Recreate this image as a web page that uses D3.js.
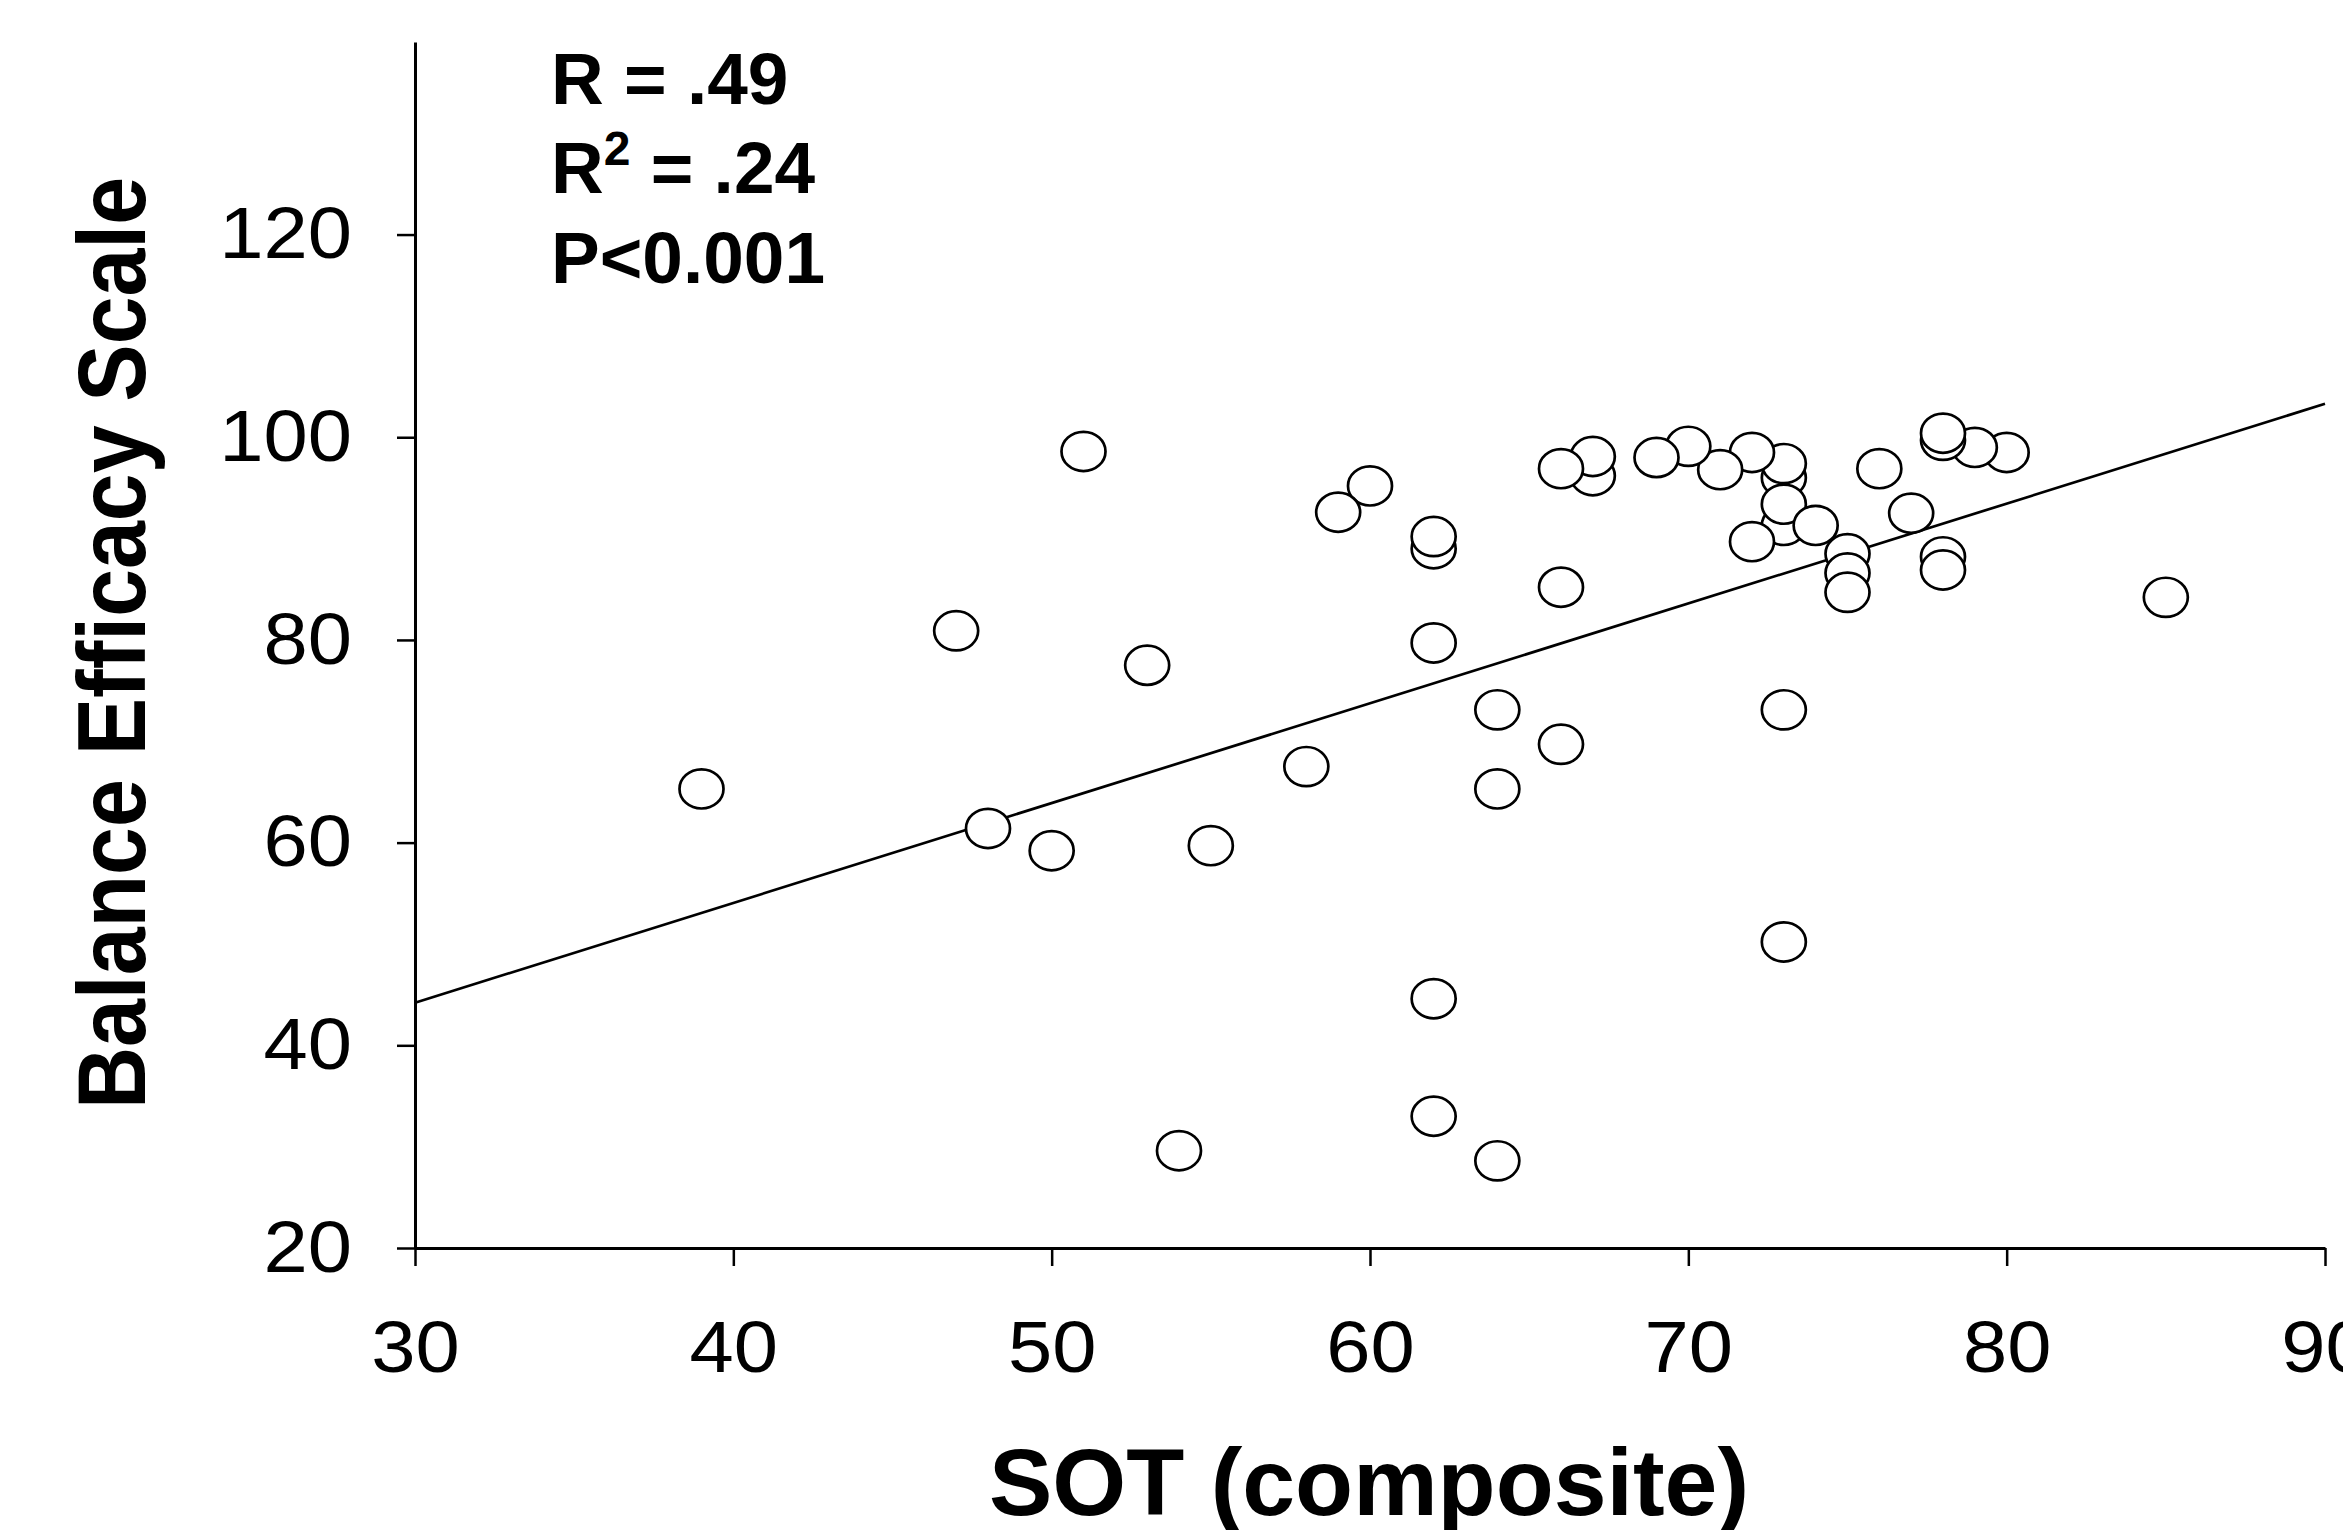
<!DOCTYPE html>
<html>
<head>
<meta charset="utf-8">
<script src="https://cdn.jsdelivr.net/npm/d3@7"></script>
<style>
  body { margin: 0; background: #fff; }
  text { font-family: "Liberation Sans", Arial, sans-serif; fill: #000; }
</style>
</head>
<body>
<svg width="2343" height="1530"></svg>
<script>
// SOT composite score (x) vs Balance Efficacy Scale (y), drawn in this order
var sot = [85, 80, 79, 78, 78, 78, 78, 77, 76, 75, 75, 75,
           73, 73, 73, 73, 73, 73, 74, 72, 72, 71, 70, 69,
           67, 67, 66, 66, 66, 64, 64, 64, 62, 62, 62, 62, 62,
           60, 59, 58, 55, 54, 53, 51, 50, 48, 47, 39];
var bes = [84.2, 98.5, 99.0, 99.7, 100.4, 88.2, 86.9, 92.5, 96.9, 88.5, 86.6, 84.7,
           96.0, 91.3, 97.4, 93.4, 73.1, 50.2, 91.3, 98.5, 89.7, 96.8, 99.1, 98.0,
           96.2, 98.1, 96.9, 85.2, 69.7, 73.1, 65.3, 28.6, 89.0, 90.2, 79.7, 44.6, 33.0,
           95.2, 92.6, 67.5, 59.7, 29.6, 77.5, 98.6, 59.2, 61.4, 80.9, 65.3];

// fitted regression line end points
var fitX = [30, 90];
var fitY = [44.2, 103.3];

var xTicks = [30, 40, 50, 60, 70, 80, 90];
var yTicks = [20, 40, 60, 80, 100, 120];

var stats = ["R = .49", "R2 = .24", "P<0.001"];

var svg = d3.select("svg");

var x = d3.scaleLinear().domain([30, 90]).range([415, 2325]);
var y = d3.scaleLinear().domain([20, 139]).range([1248, 42]);

// axes
var xAxis = svg.append("g")
    .attr("transform", "translate(0," + y(20) + ")")
    .call(d3.axisBottom(x).tickValues(xTicks).tickSize(18).tickSizeOuter(0).tickPadding(54));
var yAxis = svg.append("g")
    .attr("transform", "translate(" + x(30) + ",0)")
    .call(d3.axisLeft(y).tickValues(yTicks).tickSize(18).tickSizeOuter(0).tickPadding(45));

var stretch = 1.09;
[xAxis, yAxis].forEach(function(a) {
  a.select(".domain").attr("stroke", "#000").attr("stroke-width", 3);
  a.selectAll(".tick line").attr("stroke", "#000").attr("stroke-width", 2.5);
  a.selectAll(".tick text")
      .style("font-family", "'Liberation Sans', Arial, sans-serif")
      .attr("font-size", 73)
      .attr("fill", "#000")
      .attr("x", function() { return +d3.select(this).attr("x") / stretch || 0; })
      .attr("transform", "scale(" + stretch + ",1)");
});

// regression line
svg.append("line")
    .attr("x1", x(fitX[0])).attr("y1", y(fitY[0]))
    .attr("x2", x(fitX[1])).attr("y2", y(fitY[1]))
    .attr("stroke", "#000")
    .attr("stroke-width", 2.7);

// points
svg.append("g")
  .selectAll("ellipse")
  .data(d3.range(sot.length))
  .enter().append("ellipse")
    .attr("cx", function(i) { return x(sot[i]); })
    .attr("cy", function(i) { return y(bes[i]); })
    .attr("rx", 22)
    .attr("ry", 19.6)
    .attr("fill", "#fff")
    .attr("stroke", "#000")
    .attr("stroke-width", 2.7);

// stats text
var st = svg.append("g").attr("font-weight", "bold").attr("font-size", 73);
st.append("text").attr("x", 551).attr("y", 104).text(stats[0]);
var r2 = st.append("text").attr("x", 551).attr("y", 193);
r2.append("tspan").text("R");
r2.append("tspan").attr("font-size", 48).attr("dy", -28).text("2");
r2.append("tspan").attr("dy", 28).text(stats[1].slice(2));
st.append("text").attr("x", 551).attr("y", 283).text(stats[2]);

// axis titles
svg.append("text")
    .attr("x", 1369).attr("y", 1515)
    .attr("text-anchor", "middle")
    .attr("font-weight", "bold")
    .attr("font-size", 95)
    .text("SOT (composite)");

svg.append("text")
    .attr("transform", "translate(145,643) rotate(-90) scale(1,1.13)")
    .attr("text-anchor", "middle")
    .attr("font-weight", "bold")
    .attr("font-size", 86)
    .text("Balance Efficacy Scale");
</script>
</body>
</html>
